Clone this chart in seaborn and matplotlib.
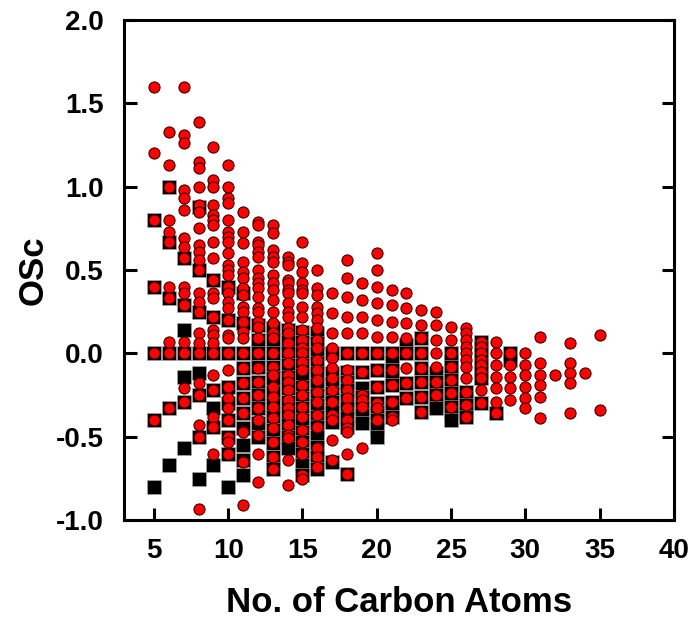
import matplotlib
matplotlib.use("Agg")
import matplotlib.pyplot as plt
import seaborn as sns
import pandas as pd

# Carbon numbers with values
circle_carbons = list(range(5, 36))
circle_osc = [
    [1.6, 1.2, 0.8, 0.4, 0.0, -0.4],
    [1.33, 1.13, 1.0, 0.8, 0.73, 0.67, 0.4, 0.33, 0.07, 0.0, -0.33],
    [1.6, 1.31, 1.26, 0.98, 0.93, 0.86, 0.69, 0.64, 0.57, 0.4, 0.36, 0.29, 0.07, 0.0, -0.21, -0.29],
    [1.39, 1.15, 1.11, 1.0, 0.89, 0.85, 0.75, 0.65, 0.61, 0.56, 0.5, 0.36, 0.31, 0.25, 0.12, 0.06, 0.0, -0.18, -0.25, -0.43, -0.5, -0.93],
    [1.24, 1.04, 1.0, 0.89, 0.83, 0.8, 0.77, 0.67, 0.57, 0.44, 0.36, 0.33, 0.22, 0.14, 0.11, 0.06, 0.0, -0.13, -0.22, -0.38, -0.44, -0.6],
    [1.13, 1.0, 0.93, 0.9, 0.8, 0.73, 0.7, 0.67, 0.6, 0.53, 0.5, 0.47, 0.4, 0.36, 0.31, 0.27, 0.2, 0.11, 0.09, 0.0, -0.1, -0.2, -0.27, -0.33, -0.4, -0.5, -0.53, -0.6],
    [0.85, 0.73, 0.66, 0.55, 0.49, 0.45, 0.39, 0.35, 0.28, 0.25, 0.19, 0.13, 0.09, 0.0, -0.09, -0.18, -0.27, -0.36, -0.47, -0.65, -0.91],
    [0.79, 0.77, 0.67, 0.65, 0.61, 0.58, 0.5, 0.45, 0.42, 0.39, 0.34, 0.27, 0.25, 0.19, 0.16, 0.09, 0.0, -0.09, -0.17, -0.25, -0.33, -0.4, -0.49, -0.6, -0.77],
    [0.77, 0.72, 0.62, 0.58, 0.55, 0.47, 0.42, 0.38, 0.32, 0.25, 0.18, 0.12, 0.09, 0.0, -0.08, -0.13, -0.2, -0.26, -0.32, -0.39, -0.45, -0.53, -0.62, -0.69],
    [0.58, 0.55, 0.53, 0.44, 0.42, 0.38, 0.36, 0.3, 0.25, 0.22, 0.15, 0.12, 0.06, 0.0, -0.06, -0.13, -0.17, -0.22, -0.28, -0.33, -0.37, -0.43, -0.49, -0.51, -0.64, -0.79],
    [0.67, 0.54, 0.49, 0.42, 0.38, 0.36, 0.28, 0.22, 0.14, 0.08, 0.03, 0.0, -0.05, -0.1, -0.19, -0.25, -0.32, -0.38, -0.46, -0.53, -0.6, -0.73, -0.75],
    [0.5, 0.39, 0.35, 0.28, 0.24, 0.2, 0.15, 0.08, 0.03, -0.04, -0.1, -0.16, -0.23, -0.29, -0.37, -0.44, -0.57, -0.62, -0.68],
    [0.36, 0.24, 0.12, 0.03, -0.03, -0.09, -0.15, -0.22, -0.29, -0.37, -0.4, -0.52, -0.64],
    [0.56, 0.45, 0.34, 0.22, 0.12, 0.0, -0.1, -0.16, -0.22, -0.27, -0.33, -0.4, -0.45, -0.47, -0.6, -0.72],
    [0.42, 0.32, 0.22, 0.12, 0.0, -0.11, -0.25, -0.28, -0.32, -0.57],
    [0.6, 0.5, 0.4, 0.3, 0.2, 0.1, 0.0, -0.1, -0.2, -0.3, -0.33, -0.4],
    [0.38, 0.29, 0.19, 0.1, 0.0, -0.1, -0.19, -0.29, -0.38, -0.4],
    [0.36, 0.27, 0.18, 0.09, 0.0, -0.09, -0.18, -0.27],
    [0.26, 0.17, 0.09, 0.0, -0.09, -0.17, -0.26, -0.35],
    [0.25, 0.17, 0.08, 0.0, -0.08, -0.17, -0.25],
    [0.16, 0.08, 0.0, -0.08, -0.16, -0.24, -0.32],
    [0.15, 0.12, 0.08, 0.04, 0.0, -0.04, -0.08, -0.15, -0.23, -0.31, -0.38],
    [0.07, 0.04, 0.0, -0.04, -0.07, -0.11, -0.15, -0.22, -0.3],
    [0.07, 0.0, -0.07, -0.14, -0.21, -0.29, -0.36],
    [0.0, -0.07, -0.14, -0.21, -0.28],
    [0.0, -0.07, -0.13, -0.2, -0.27, -0.33],
    [0.1, -0.06, -0.13, -0.19, -0.26, -0.39],
    [-0.13],
    [0.06, -0.06, -0.12, -0.18, -0.36],
    [-0.12],
    [0.11, -0.34],
]

square_carbons = list(range(5, 30))
square_osc = [
    [0.8, 0.4, 0.0, -0.4, -0.8],
    [1.0, 0.67, 0.33, 0.0, -0.33, -0.67],
    [0.57, 0.29, 0.14, 0.0, -0.14, -0.29, -0.57],
    [0.88, 0.5, 0.25, 0.0, -0.12, -0.25, -0.5, -0.75],
    [0.44, 0.22, 0.0, -0.22, -0.33, -0.44, -0.67],
    [0.4, 0.2, 0.0, -0.2, -0.3, -0.4, -0.5, -0.6, -0.8],
    [0.36, 0.18, 0.0, -0.09, -0.18, -0.27, -0.36, -0.45, -0.55, -0.64, -0.73],
    [0.17, 0.08, 0.0, -0.08, -0.17, -0.25, -0.33, -0.42, -0.5],
    [0.15, 0.08, 0.0, -0.08, -0.15, -0.23, -0.31, -0.38, -0.46, -0.54, -0.62, -0.69],
    [0.14, 0.07, 0.0, -0.07, -0.14, -0.21, -0.29, -0.36, -0.43, -0.5, -0.57],
    [0.13, 0.07, 0.0, -0.07, -0.13, -0.2, -0.27, -0.33, -0.4, -0.47, -0.53, -0.6, -0.67, -0.73],
    [0.12, 0.06, 0.0, -0.06, -0.12, -0.19, -0.25, -0.31, -0.38, -0.44, -0.5, -0.56, -0.62, -0.69],
    [0.0, -0.12, -0.18, -0.24, -0.29, -0.35, -0.41, -0.65],
    [0.0, -0.11, -0.17, -0.22, -0.28, -0.33, -0.39, -0.44, -0.72],
    [0.0, -0.11, -0.21, -0.26, -0.32, -0.37, -0.42],
    [0.0, -0.1, -0.2, -0.3, -0.35, -0.4, -0.45, -0.5],
    [0.0, -0.05, -0.1, -0.14, -0.19, -0.29, -0.33, -0.38],
    [0.05, 0.0, -0.18, -0.27],
    [0.09, 0.0, -0.09, -0.17, -0.26, -0.35],
    [-0.12, -0.17, -0.21, -0.25, -0.29, -0.33],
    [0.0, -0.04, -0.08, -0.12, -0.16, -0.2, -0.24, -0.28, -0.32, -0.36, -0.4],
    [-0.23, -0.27, -0.31, -0.35, -0.38],
    [0.07, 0.04, 0.0, -0.04, -0.07, -0.11, -0.15, -0.3],
    [-0.36],
    [0.0, -0.04],
]

x_ticks = [5, 10, 15, 20, 25, 30, 35, 40]
y_ticks = [-1.0, -0.5, 0.0, 0.5, 1.0, 1.5, 2.0]
x_label = "No. of Carbon Atoms"
y_label = "OSc"


def to_frame(carbons, values):
    rows = [(c, v) for c, vals in zip(carbons, values) for v in vals]
    return pd.DataFrame(rows, columns=["carbon", "osc"])


df_sq = to_frame(square_carbons, square_osc)
df_ci = to_frame(circle_carbons, circle_osc)

sns.set_theme(style="white")
plt.rcParams["font.family"] = ["Liberation Sans", "DejaVu Sans"]
plt.rcParams["font.weight"] = "bold"
plt.rcParams["text.color"] = "black"
plt.rcParams["axes.labelcolor"] = "black"

fig = plt.figure(figsize=(6.94, 6.23), dpi=100)
ax = fig.add_axes([0.179, 0.165, 0.792, 0.803])

sns.scatterplot(data=df_sq, x="carbon", y="osc", ax=ax, marker="s", s=105,
                color="black", edgecolor="#b0b0b0", linewidth=0.4, zorder=2,
                legend=False)
sns.scatterplot(data=df_ci, x="carbon", y="osc", ax=ax, marker="o", s=64,
                color="#ff0000", edgecolor="#3a0000", linewidth=0.8, zorder=3,
                legend=False)

ax.set_xlim(3, 40)
ax.set_ylim(-1.0, 2.0)
ax.set_xticks(x_ticks)
ax.set_yticks(y_ticks)
ax.set_yticklabels([f"{v:.1f}" for v in y_ticks])
ax.set_xticklabels([str(v) for v in x_ticks])

for sp in ax.spines.values():
    sp.set_visible(True)
    sp.set_color("black")
    sp.set_linewidth(2.2)

ax.tick_params(axis="both", direction="in", length=9, width=2.2, colors="black",
               labelcolor="black", labelsize=20)
ax.tick_params(axis="y", right=True, left=True, labelright=False, pad=15)
ax.tick_params(axis="x", bottom=True, top=False, pad=13)
for lab in ax.get_xticklabels() + ax.get_yticklabels():
    lab.set_fontweight("bold")
    lab.set_color("black")

ax.set_xlabel(x_label, fontsize=25, fontweight="bold", labelpad=16, color="black")
ax.set_ylabel(y_label, fontsize=25, fontweight="bold", labelpad=4, color="black")

fig.savefig("out.png", dpi=100)
